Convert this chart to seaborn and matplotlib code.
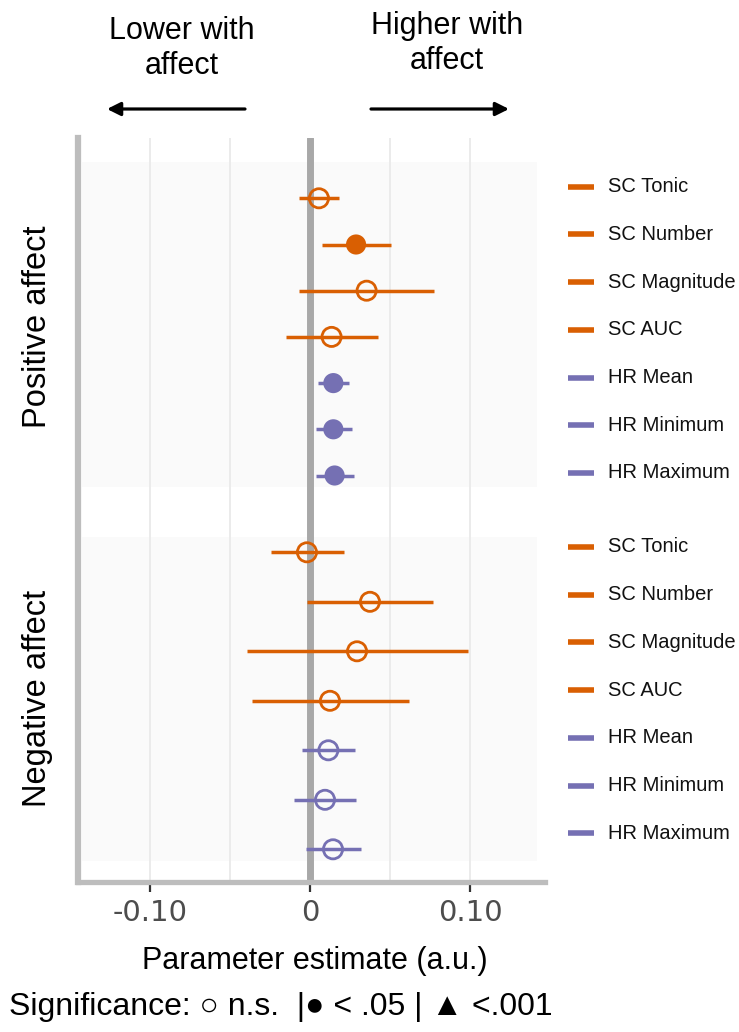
import numpy as np
import pandas as pd
import matplotlib
matplotlib.use("Agg")
import matplotlib.pyplot as plt
import seaborn as sns
from matplotlib.transforms import blended_transform_factory

# ---------------- data ----------------
metrics = ["SC Tonic", "SC Number", "SC Magnitude", "SC AUC",
           "HR Mean", "HR Minimum", "HR Maximum"]
signal = ["SC", "SC", "SC", "SC", "HR", "HR", "HR"]

pos_est = [0.0056, 0.0288, 0.0354, 0.0135, 0.0146, 0.0146, 0.0154]
pos_lo = [-0.0070, 0.0073, -0.0067, -0.0150, 0.0048, 0.0035, 0.0037]
pos_hi = [0.0183, 0.0506, 0.0777, 0.0423, 0.0246, 0.0260, 0.0275]
pos_sig = ["n.s.", "<.05", "n.s.", "n.s.", "<.05", "<.05", "<.05"]

neg_est = [-0.0019, 0.0375, 0.0294, 0.0125, 0.0115, 0.0094, 0.0144]
neg_lo = [-0.0246, -0.0021, -0.0396, -0.0360, -0.0048, -0.0100, -0.0027]
neg_hi = [0.0213, 0.0771, 0.0990, 0.0619, 0.0283, 0.0288, 0.0317]
neg_sig = ["n.s.", "n.s.", "n.s.", "n.s.", "n.s.", "n.s.", "n.s."]

panels = ["Positive affect", "Negative affect"]
xticks = [-0.10, 0.0, 0.10]
xticklabels = ["-0.10", "0", "0.10"]
gridlines = [-0.10, -0.05, 0.05, 0.10]
palette = {"SC": "#d95f02", "HR": "#7570b3"}

# ---------------- layout (pixel based) ----------------
W, H = 739, 1032
sns.set_theme(style="white")
plt.rcParams["font.family"] = ["Liberation Sans", "DejaVu Sans"]
plt.rcParams["text.color"] = "black"

fig = plt.figure(figsize=(W / 100, H / 100), dpi=100)
fig.patch.set_facecolor("white")
ax = fig.add_axes([78 / W, 1 - 882 / H, (545 - 78) / W, (882 - 138) / H])
ax.set_facecolor("white")
ax.set_xlim(-0.145, 0.1469)
ax.set_ylim(882, 138)

# panel rows (y in pixel-like units)
n = len(metrics)
pos_y = [198.3 + 46.2 * i for i in range(n)]
neg_y = [552.3 + 49.5 * i for i in range(n)]
lab_pos_y = [186.7 + 47.7 * i for i in range(n)]
lab_neg_y = [547.0 + 47.7 * i for i in range(n)]

df = pd.DataFrame({
    "metric": metrics * 2,
    "signal": signal * 2,
    "est": pos_est + neg_est,
    "lo": pos_lo + neg_lo,
    "hi": pos_hi + neg_hi,
    "sig": pos_sig + neg_sig,
    "y": pos_y + neg_y,
    "panel": [panels[0]] * n + [panels[1]] * n,
})

# background panels
x0f, x1f = (82 - 78) / 467, (537 - 78) / 467
ax.axhspan(162, 487, xmin=x0f, xmax=x1f, color="#fafafa", zorder=0, lw=0)
ax.axhspan(537, 861, xmin=x0f, xmax=x1f, color="#fafafa", zorder=0, lw=0)

for g in gridlines:
    ax.axvline(g, color="#ebebeb", lw=1.4, zorder=0.5)
ax.axvline(0, color="#a8a8a8", lw=5, zorder=1)

# confidence intervals
ax.hlines(df["y"], df["lo"], df["hi"],
          colors=[palette[s] for s in df["signal"]], lw=2.5, zorder=2)

# significant -> filled
filled = df[df["sig"] != "n.s."]
sns.scatterplot(data=filled, x="est", y="y", hue="signal", palette=palette,
                s=210, linewidth=0, ax=ax, legend=False, zorder=3)
# non significant -> open
opened = df[df["sig"] == "n.s."]
sns.scatterplot(data=opened, x="est", y="y", hue="signal", palette=palette,
                s=190, ax=ax, legend=False, zorder=3)
coll = ax.collections[-1]
fc = coll.get_facecolors()
coll.set_edgecolors(fc)
coll.set_facecolors("none")
coll.set_linewidths(2.0)

ax.set_xlabel("")
ax.set_ylabel("")
ax.set_yticks([])

# spines
for s in ["top", "right"]:
    ax.spines[s].set_visible(False)
ax.spines["left"].set_color("#bdbdbd")
ax.spines["left"].set_linewidth(4.5)
ax.spines["bottom"].set_color("#bdbdbd")
ax.spines["bottom"].set_linewidth(3.8)

ax.set_xticks(xticks)
ax.set_xticklabels(xticklabels, fontsize=21, color="#4d4d4d", family="DejaVu Sans")
ax.tick_params(axis="x", bottom=True, length=7, width=1.6, color="#333333",
               pad=5, direction="out")

# right-hand labels
trans = blended_transform_factory(fig.transFigure, ax.transData)
for ys in (lab_pos_y, lab_neg_y):
    for m, sg, yy in zip(metrics, signal, ys):
        ax.plot([568 / W, 594 / W], [yy, yy], transform=trans, color=palette[sg],
                lw=4, solid_capstyle="butt", clip_on=False)
        ax.text(608 / W, yy, m, transform=trans, ha="left", va="center",
                fontsize=14.5, color="#111111", clip_on=False)

# panel labels
fig.text(38 / W, 1 - 327 / H, panels[0], rotation=90, ha="center", va="center",
         fontsize=23.5, color="black")
fig.text(38 / W, 1 - 698 / H, panels[1], rotation=90, ha="center", va="center",
         fontsize=23.5, color="black")

# direction annotations
fig.text(182 / W, 1 - 74 / H, "Lower with\naffect", ha="center", va="baseline",
         multialignment="center", fontsize=22, color="black")
fig.text(447 / W, 1 - 69 / H, "Higher with\naffect", ha="center", va="baseline",
         multialignment="center", fontsize=22, color="black")
arrow_kw = dict(arrowstyle="-|>", lw=2.3, color="black", mutation_scale=20,
                shrinkA=0, shrinkB=0)
fig.add_artist(matplotlib.patches.FancyArrowPatch(
    (245 / W, 1 - 109 / H), (107 / W, 1 - 109 / H),
    transform=fig.transFigure, **arrow_kw))
fig.add_artist(matplotlib.patches.FancyArrowPatch(
    (371 / W, 1 - 109 / H), (509 / W, 1 - 109 / H),
    transform=fig.transFigure, **arrow_kw))

# x title and significance key
fig.text(315 / W, 1 - 961 / H, "Parameter estimate (a.u.)", ha="center",
         va="center", fontsize=22, color="black")
fig.text(9 / W, 1 - 1007 / H, "Significance: \u25CB n.s.  |\u25CF < .05 | \u25B2 <.001",
         ha="left", va="center", fontsize=23, color="black")

fig.savefig("out.png", dpi=100, facecolor="white")
